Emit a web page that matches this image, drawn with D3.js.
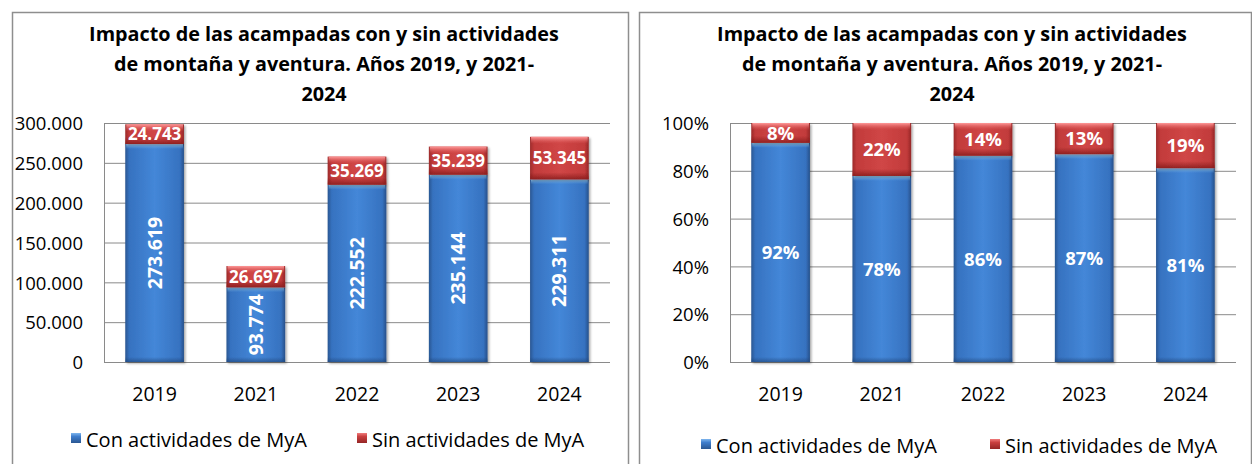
<!DOCTYPE html>
<html>
<head>
<meta charset="utf-8">
<script src="https://cdn.jsdelivr.net/npm/d3@7"></script>
<style>
body { margin: 0; background: #fff; }
svg { display: block; font-family: "Open Sans", "Noto Sans", sans-serif; }
</style>
</head>
<body>
<svg id="chart" width="1252" height="464"></svg>
<script>
"use strict";
// data
const years = ["2019", "2021", "2022", "2023", "2024"];
const conMyA = [273619, 93774, 222552, 235144, 229311];
const sinMyA = [24743, 26697, 35269, 35239, 53345];
const seriesKeys = ["con", "sin"];
const seriesNames = ["Con actividades de MyA", "Sin actividades de MyA"];
const absTicks = [0, 50000, 100000, 150000, 200000, 250000, 300000];
const pctTicks = [0, 0.2, 0.4, 0.6, 0.8, 1];
const titleLines = [
    "Impacto de las acampadas con y sin actividades",
    "de montaña y aventura. Años 2019, y 2021-",
    "2024"
];

const esLocale = d3.formatLocale({ decimal: ",", thousands: ".", grouping: [3], currency: ["", " €"] });
const fmtAbs = esLocale.format(",d");
const fmtPct = d3.format(".0%");

const rows = years.map((y, i) => ({ year: y, con: conMyA[i], sin: sinMyA[i] }));

const svg = d3.select("#chart");
const defs = svg.append("defs");

function gradient(id, vertical, stops) {
    const lg = defs.append("linearGradient")
        .attr("id", id)
        .attr("x1", 0).attr("y1", 0)
        .attr("x2", vertical ? 0 : 1).attr("y2", vertical ? 1 : 0);
    stops.forEach(s => lg.append("stop")
        .attr("offset", s[0])
        .attr("stop-color", s[1])
        .attr("stop-opacity", s[2] == null ? 1 : s[2]));
}
gradient("blueH", false, [[0, "#2a5792"], [0.07, "#3672c0"], [0.5, "#4487d8"], [0.93, "#3672c0"], [1, "#27508a"]]);
gradient("redH", false, [[0, "#9c2a2a"], [0.07, "#c23b3b"], [0.5, "#d04646"], [0.93, "#c23b3b"], [1, "#952626"]]);
gradient("blueTop", true, [[0, "#a6dcff"], [1, "#5b9de2", 0]]);
gradient("redTop", true, [[0, "#ff9a9a"], [1, "#e05a5a", 0]]);
gradient("redBot", true, [[0, "#8a1c1c", 0], [1, "#861c1c", 0.85]]);
gradient("blueBot", true, [[0, "#1e4478", 0], [1, "#1e4478", 0.6]]);
gradient("blueKey", true, [[0, "#7fb6ee"], [0.35, "#3f7ecd"], [1, "#2a5792"]]);
gradient("redKey", true, [[0, "#f07c7c"], [0.35, "#c94040"], [1, "#952626"]]);

defs.append("filter")
    .attr("id", "shadow")
    .attr("x", -0.2).attr("y", -0.2).attr("width", 1.4).attr("height", 1.4)
    .append("feDropShadow")
    .attr("dx", 1.5).attr("dy", 1.5)
    .attr("stdDeviation", 1.3)
    .attr("flood-color", "#000")
    .attr("flood-opacity", 0.35);

const plotTop = 123;
const plotBottom = 362;

function drawPanel(cfg) {
    const g = svg.append("g");

    g.append("rect")
        .attr("x", cfg.box[0] + 0.5).attr("y", 12.5)
        .attr("width", cfg.box[1] - cfg.box[0]).attr("height", 480)
        .attr("fill", "#fff")
        .attr("stroke", "#8e8e8e")
        .attr("stroke-width", 1.5);

    const title = g.append("text")
        .attr("text-anchor", "middle")
        .attr("font-weight", "bold")
        .attr("font-size", 19.8)
        .attr("fill", "#000");
    titleLines.forEach((t, i) => title.append("tspan")
        .attr("x", cfg.titleX)
        .attr("y", 41 + i * 30)
        .text(t));

    const x = d3.scaleBand()
        .domain(years)
        .range([cfg.x0, cfg.x1])
        .paddingInner(0.42)
        .paddingOuter(0.21);
    const y = d3.scaleLinear()
        .domain(cfg.domain)
        .range([plotBottom, plotTop]);

    const stack = d3.stack().keys(seriesKeys);
    if (cfg.expand) stack.offset(d3.stackOffsetExpand);
    const layers = stack(rows);

    // y axis + gridlines
    const yAxis = g.append("g")
        .attr("transform", `translate(${cfg.x0},0)`)
        .call(d3.axisLeft(y)
            .tickValues(cfg.ticks)
            .tickFormat(cfg.fmt)
            .tickSize(-(cfg.x1 - cfg.x0))
            .tickSizeOuter(0)
            .tickPadding(21))
        .attr("font-family", null)
        .attr("font-size", null);
    yAxis.selectAll(".tick line").attr("stroke", "#8a8a8a");
    yAxis.select(".domain").attr("stroke", "#8a8a8a");
    yAxis.selectAll("text")
        .attr("font-size", 18.5)
        .attr("fill", "#000")
        .attr("dy", "0.36em");

    // x labels
    g.append("g").selectAll("text")
        .data(years)
        .join("text")
        .attr("x", d => x(d) + x.bandwidth() / 2)
        .attr("y", 401)
        .attr("text-anchor", "middle")
        .attr("font-size", 19.5)
        .attr("fill", "#000")
        .text(d => d);

    // bars
    const bars = g.append("g");
    layers.forEach((layer, li) => {
        const lg = bars.append("g").attr("filter", "url(#shadow)");
        const segs = lg.selectAll("g")
            .data(layer)
            .join("g");
        segs.append("rect")
            .attr("x", d => x(d.data.year))
            .attr("y", d => y(d[1]))
            .attr("width", x.bandwidth())
            .attr("height", d => y(d[0]) - y(d[1]))
            .attr("fill", li === 0 ? "url(#blueH)" : "url(#redH)");
        segs.append("rect")
            .attr("x", d => x(d.data.year) + 1)
            .attr("y", d => y(d[1]))
            .attr("width", x.bandwidth() - 2)
            .attr("height", li === 0 ? 5 : 7)
            .attr("fill", li === 0 ? "url(#blueTop)" : "url(#redTop)");
        segs.append("rect")
            .attr("x", d => x(d.data.year))
            .attr("y", d => y(d[0]) - (li === 0 ? 5 : 7))
            .attr("width", x.bandwidth())
            .attr("height", li === 0 ? 5 : 7)
            .attr("fill", li === 0 ? "url(#blueBot)" : "url(#redBot)");
    });

    // value labels
    const labels = g.append("g")
        .attr("fill", "#fff")
        .attr("font-weight", "bold")
        .attr("text-anchor", "middle");
    layers.forEach((layer, li) => {
        labels.append("g").selectAll("text")
            .data(layer)
            .join("text")
            .attr("transform", d => {
                const cx = x(d.data.year) + x.bandwidth() / 2;
                const cy = (y(d[0]) + y(d[1])) / 2;
                return (!cfg.expand && li === 0) ? `translate(${cx},${cy}) rotate(-90)` : `translate(${cx},${cy})`;
            })
            .attr("dy", "0.36em")
            .attr("font-size", cfg.expand ? 18.5 : (li === 0 ? 19.5 : 17))
            .text(d => cfg.expand ? fmtPct(d[1] - d[0]) : fmtAbs(d.data[seriesKeys[li]]));
    });

    // legend
    const legend = g.append("g");
    seriesNames.forEach((name, i) => {
        const item = legend.append("g")
            .attr("transform", `translate(${cfg.legendX[i]},${cfg.legendY})`);
        item.append("rect")
            .attr("x", 0).attr("y", -14)
            .attr("width", 10).attr("height", 10)
            .attr("fill", i === 0 ? "url(#blueKey)" : "url(#redKey)");
        item.append("text")
            .attr("x", 15)
            .attr("y", 0)
            .attr("font-size", 20)
            .attr("fill", "#000")
            .text(name);
    });
}

drawPanel({
    box: [12, 628],
    titleX: 324,
    x0: 104, x1: 610,
    domain: [0, 300000],
    ticks: absTicks,
    fmt: fmtAbs,
    expand: false,
    legendX: [71, 357],
    legendY: 447
});

drawPanel({
    box: [639, 1251],
    titleX: 952,
    x0: 730, x1: 1236,
    domain: [0, 1],
    ticks: pctTicks,
    fmt: fmtPct,
    expand: true,
    legendX: [701, 990],
    legendY: 453
});
</script>
</body>
</html>
